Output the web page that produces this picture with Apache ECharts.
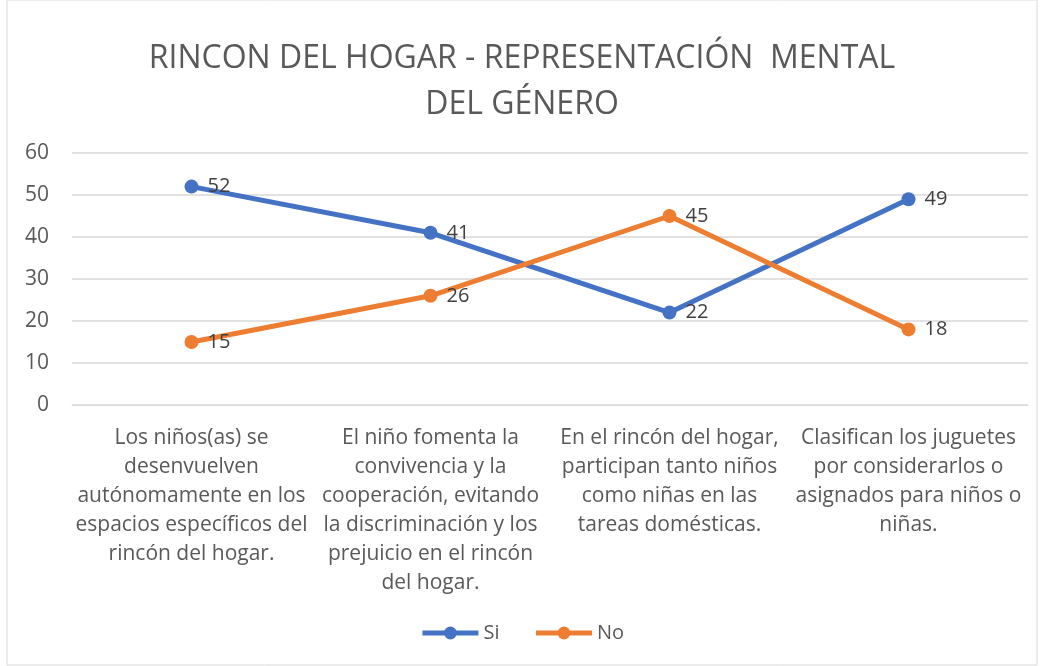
<!DOCTYPE html>
<html>
<head>
<meta charset="utf-8">
<script src="https://cdn.jsdelivr.net/npm/echarts@6/dist/echarts.min.js"></script>
<style>
  html, body { margin: 0; padding: 0; background: #fff; }
  #chart { width: 1044px; height: 666px; }
</style>
</head>
<body>
<div id="chart"></div>
<script>
// categories (line breaks follow the reference wrapping)
const categories = [
  'Los niños(as) se\ndesenvuelven\nautónomamente en los\nespacios específicos del\nrincón del hogar.',
  'El niño fomenta la\nconvivencia y la\ncooperación, evitando\nla discriminación y los\nprejuicio en el rincón\ndel hogar.',
  'En el rincón del hogar,\nparticipan tanto niños\ncomo niñas en las\ntareas domésticas.',
  'Clasifican los juguetes\npor considerarlos o\nasignados para niños o\nniñas.'
];
const siValues = [52, 41, 22, 49];
const noValues = [15, 26, 45, 18];

const chart = echarts.init(document.getElementById('chart'));
const font = 'Open Sans, Noto Sans, sans-serif';

const label = {
  show: true,
  position: 'right',
  distance: 9,
  fontFamily: font,
  fontSize: 20,
  color: '#404040'
};

const option = {
  backgroundColor: '#fff',
  animation: false,
  title: {
    text: 'RINCON DEL HOGAR - REPRESENTACIÓN  MENTAL\nDEL GÉNERO',
    left: 'center',
    top: 31,
    textStyle: {
      fontFamily: font,
      fontWeight: 'normal',
      fontSize: 32,
      color: '#595959',
      lineHeight: 46
    }
  },
  legend: {
    bottom: 18,
    left: 'center',
    itemWidth: 56,
    itemHeight: 16,
    itemGap: 34,
    lineStyle: { width: 5 },
    textStyle: { fontFamily: font, fontSize: 20, color: '#595959' },
    data: ['Si', 'No']
  },
  grid: { left: 72, right: 16, top: 153, bottom: 261 },
  xAxis: {
    type: 'category',
    data: categories,
    axisLine: { show: true, lineStyle: { color: '#d9d9d9' } },
    axisTick: { show: false },
    axisLabel: {
      interval: 0,
      margin: 19,
      fontFamily: font,
      fontSize: 21,
      lineHeight: 29,
      color: '#595959'
    }
  },
  yAxis: {
    type: 'value',
    min: 0,
    max: 60,
    interval: 10,
    axisLine: { show: false },
    axisTick: { show: false },
    splitLine: { lineStyle: { color: '#d9d9d9', width: 1.5 } },
    axisLabel: { fontFamily: font, fontSize: 21, color: '#595959', margin: 23 }
  },
  series: [
    {
      name: 'Si',
      type: 'line',
      data: siValues,
      color: '#4472c4',
      symbol: 'circle',
      symbolSize: 14,
      lineStyle: { width: 5 },
      label: label
    },
    {
      name: 'No',
      type: 'line',
      data: noValues,
      color: '#ed7d31',
      symbol: 'circle',
      symbolSize: 14,
      lineStyle: { width: 5 },
      label: label
    }
  ],
  graphic: [{
    type: 'rect',
    shape: { x: 7, y: 0, width: 1030, height: 665 },
    style: { fill: 'none', stroke: '#d9d9d9', lineWidth: 1 },
    silent: true
  }]
};

chart.setOption(option);
</script>
</body>
</html>
